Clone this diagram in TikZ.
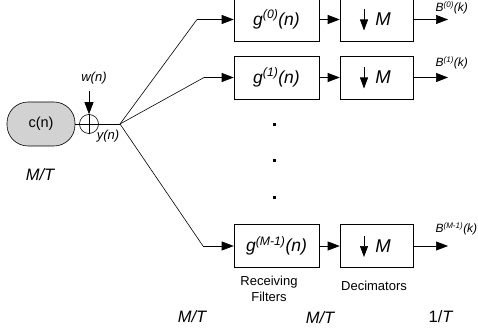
\documentclass[tikz,border=0pt]{standalone}
\usepackage{fontspec}
\setmainfont{Liberation Sans}
\usetikzlibrary{arrows.meta}

\begin{document}
\begin{tikzpicture}[x=1pt, y=-1pt, line width=0.6pt,
        filt/.style={draw, minimum width=85pt, minimum height=43pt, inner sep=0pt, font=\fontsize{17.5}{20}\selectfont\itshape},
        deci/.style={draw, minimum width=73pt, minimum height=43pt, inner sep=0pt, font=\fontsize{18.5}{20}\selectfont\itshape},
        tip/.style={-{Triangle[length=12pt,width=9pt]}},
        lbl/.style={font=\fontsize{13}{15}\selectfont\itshape},
        rate/.style={font=\fontsize{16.5}{19}\selectfont\itshape},
        txt/.style={font=\fontsize{13}{16}\selectfont, align=center}]
        \useasboundingbox (0,0) rectangle (478,328);
        
        % source, noise and adder
        \node[draw, fill=gray!35, rounded corners=21pt, minimum width=68pt, minimum height=44pt, font=\fontsize{14.5}{17}\selectfont] (c) at (41,124) {c(n)};
        \node[draw, circle, minimum size=19pt, inner sep=0pt] (add) at (89,124) {};
        \draw (add.north) -- (add.south) (add.west) -- (add.east);
        \coordinate (w) at (89,91);
        \node[lbl] (wl) at (94,78) {w(n)};
        \coordinate (split) at (120,124);
        \node[lbl] (yl) at (108,136) {y(n)};
        \draw (c) -- (add);
        \draw (add) -- (split);
        \draw[tip] (w) -- (add);
        
        % branches
        \foreach \i/\y/\ex/\sup/\ly in {0/19.5/197/(0)/8, 1/77.5/204/(1)/63, 2/246/203/(M-1)/229} {
            \node[filt] (g\i) at (276.5,\y) {g\textsuperscript{\sup}(n)};
            \node[deci] (d\i) at (376.5,\y) {\hspace{13pt}M};
            \draw[-{Triangle[length=11pt,width=8pt]}] ([xshift=-12.5pt,yshift=10pt]d\i.center) -- ++(0,21);
            \coordinate (e\i) at (\ex,\y);
            \coordinate (o\i) at (448,\y);
            \draw (split) -- (e\i);
            \draw[tip] (e\i) -- (g\i);
            \draw[tip] (g\i) -- (d\i);
            \draw[tip] (d\i) -- (o\i);
            \node[font=\fontsize{12}{14}\selectfont\itshape, anchor=west] (b\i) at (432,\ly) {B\textsuperscript{\sup}(k)};
        }
        
        % dots
        \foreach \y in {123,159,196}
            \fill (273,\y) rectangle +(3,3);
        
        \node[txt] (rf) at (269,289) {Receiving\\Filters};
        \node[txt] (dc) at (374,286) {Decimators};
        
        % rates
        \node[rate] (r1) at (40,175) {M/T};
        \node[rate] (r2) at (192,317) {M/T};
        \node[rate] (r3) at (320,318) {M/T};
        \node[rate, font=\fontsize{16.5}{19}\selectfont] (r4) at (441,317) {1/\textit{T}};
\end{tikzpicture}
\end{document}
